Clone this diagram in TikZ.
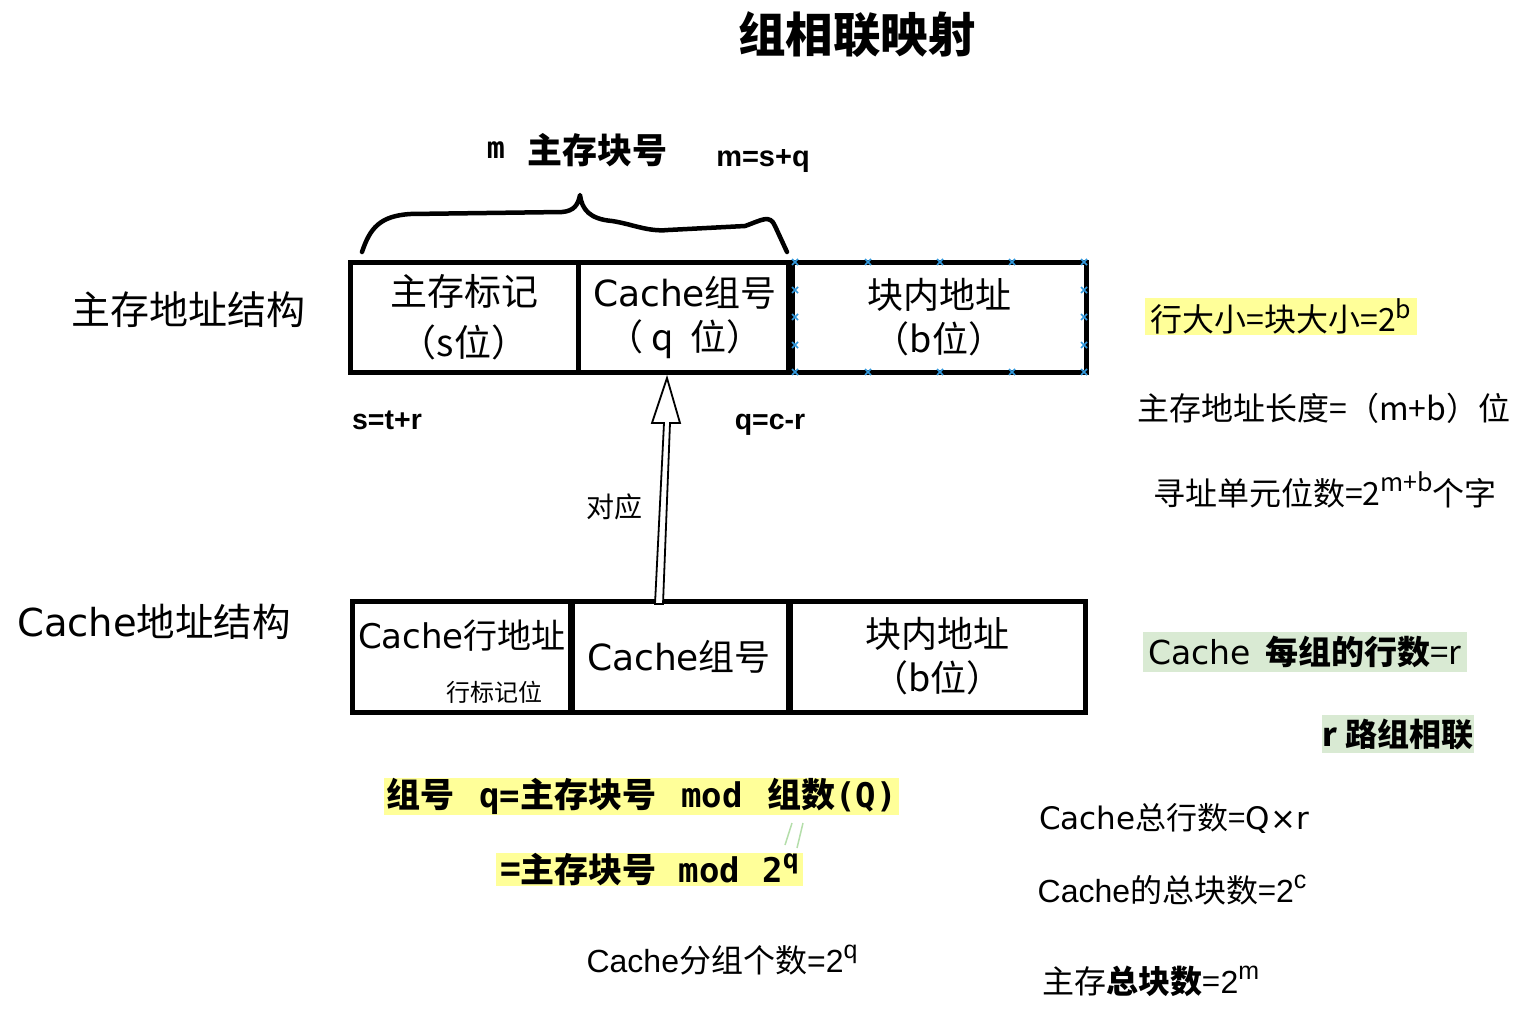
\documentclass[tikz,border=0pt]{standalone}
\usepackage{fontspec}
\usepackage{graphicx}
\setmainfont{Noto Sans CJK SC}
\newfontfamily\ari{Liberation Sans}
\newfontfamily\mon{DejaVu Sans Mono}
\newfontfamily\dv{DejaVu Sans}
\newcommand\fz[2]{\fontsize{#1}{#2}\selectfont}
\newcommand\sups[1]{\raisebox{0.42em}{\scalebox{0.78}{#1}}}
\definecolor{yhl}{RGB}{255,255,153}
\definecolor{ghl}{RGB}{217,234,211}
\definecolor{sel}{RGB}{51,153,221}
\definecolor{slash}{RGB}{180,222,170}
\tikzset{
  cell/.style={draw, line width=5pt, inner sep=0pt, align=center, minimum height=110pt},
  lab/.style={inner sep=0pt, align=center},
  hl/.style={inner sep=0pt, fill=#1},
}
\begin{document}
\begin{tikzpicture}[x=1pt,y=-1pt]
\useasboundingbox (0,0) rectangle (1539,1021);
% title
\node[lab, font=\bfseries\fz{47.5}{50}] (title) at (857,35) {组相联映射};
% top labels
\node[lab, font=\mon\bfseries\fz{30}{32}] (mlab) at (496,150) {m};
\node[lab, font=\bfseries\fz{35}{38}] (mblk) at (597,150) {主存块号};
\node[lab, font=\ari\bfseries\fz{29}{31}] (msq) at (763,161) {m=s+q};
% brace
\draw[line width=4.5pt, line cap=round, line join=round]
  (362,252) .. controls (370,228) and (380,216) .. (410,214)
  -- (562,212) .. controls (574,211) and (578,205) .. (580,195)
  .. controls (582,210) and (590,219) .. (612,221)
  .. controls (632,224) and (648,232) .. (668,230)
  -- (745,226) .. controls (762,220) and (770,214) .. (775,226)
  -- (787,252);
% main memory address structure
\node[lab, font=\fz{39}{42}] (mainlab) at (188,310) {主存地址结构};
\node[cell, minimum width=228pt, font=\fz{37}{51}] (t1) at (464,317) {主存标记\\（s位）};
\node[cell, minimum width=214pt, font=\fz{36}{44}] (t2) at (685,317) {{\dv Cache}组号\\（ q \ 位）};
\node[cell, minimum width=294pt, font=\fz{36}{44}] (t3) at (939,317) {块内地址\\（b位）};
\draw[line width=8pt] (t3.north west) -- (t3.south west);
% selection marks
\foreach \p in {(795,262),(868,262),(940,262),(1012,262),(1084,262),
                (795,372),(868,372),(940,372),(1012,372),(1084,372),
                (795,290),(795,317),(795,345),(1084,290),(1084,317),(1084,345)}
  \draw[sel, line width=1.6pt] \p ++(-3,-3) -- ++(6,6) \p ++(-3,3) -- ++(6,-6);
% s, q formulas
\node[lab, font=\ari\bfseries\fz{28.5}{30}] (stR) at (387,420) {s=t+r};
\node[lab, font=\ari\bfseries\fz{28.5}{30}] (qcr) at (770,425) {q=c-r};
% cache address structure
\node[lab, font=\fz{38.5}{42}] (cachelab) at (154,622) {{\dv Cache}地址结构};
\node[cell, minimum width=220pt, minimum height=111pt] (b1) at (462,656.5) {};
\node[cell, minimum width=218pt, minimum height=111pt, font=\fz{36}{40}] (b2) at (679,656.5) {{\dv Cache}组号};
\node[cell, minimum width=295pt, minimum height=111pt, font=\fz{36}{44}] (b3) at (937.5,656.5) {块内地址\\（b位）};
\node[lab, font=\fz{34}{36}] (b1a) at (462,636) {{\dv Cache}行地址};
\node[lab, font=\fz{24}{26}] (b1b) at (494,692) {行标记位};
% hollow arrow
\coordinate (atip) at (667,378);
\coordinate (abase) at (659,604);
\draw[line width=1.8pt, fill=white, line join=miter]
  (655,604) -- (664,423) -- (652,423) -- (atip) -- (680,423) -- (670,423) -- (663,604) -- cycle;
\node[lab, font=\fz{28}{30}] (dy) at (614,507) {对应};
% right side
\node[hl=yhl, minimum width=272pt, minimum height=37pt, font=\fz{32}{34}] (rowsz) at (1281,316.5) {行大小=块大小=2\sups{b}};
\node[lab, font=\fz{32}{34}] (alen) at (1324,408) {主存地址长度=（m+b）位};
\node[lab, font=\fz{32}{34}] (aunit) at (1325,490) {寻址单元位数=2\sups{m+b}个字};
\node[hl=ghl, minimum width=324pt, minimum height=40pt, font=\fz{33}{34}] (rper) at (1305,652) {{\dv Cache} \ \textbf{每组的行数}=r};
\node[hl=ghl, minimum width=152pt, minimum height=38pt, font=\bfseries\fz{32}{34}] (rway) at (1398,734) {r 路组相联};
\node[lab, font=\fz{31}{32}] (ctot) at (1174,818) {{\dv Cache}总行数={\dv Q×r}};
\node[lab, font=\fz{32}{34}] (cblk) at (1172,890) {{\ari Cache}的总块数={\ari 2\sups{c}}};
\node[lab, font=\fz{32}{34}] (mblkn) at (1151,981) {主存\textbf{总块数}={\ari 2\sups{m}}};
% bottom formulas
\node[hl=yhl, minimum width=515pt, minimum height=33pt, font=\bfseries\fz{34}{36}] (f1) at (641.5,796.5) {组号\hspace{25pt}{\mon q=}主存块号\hspace{25pt}{\mon mod}\hspace{25pt}组数{\mon (Q)}};
\node[hl=yhl, minimum width=307pt, minimum height=33pt, font=\bfseries\fz{34}{36}] (f2) at (649.5,869.5) {={主存块号}\hspace{22pt}{\mon mod}\hspace{22pt}{\mon 2\sups{q}}};
\draw[slash, line width=1.5pt] (792,823) -- (785,845) (803,823) -- (797,848);
\node[lab, font=\ari\fz{32}{34}] (cgrp) at (722,960) {Cache{\rmfamily 分组个数}=2\sups{q}};
\end{tikzpicture}
\end{document}
